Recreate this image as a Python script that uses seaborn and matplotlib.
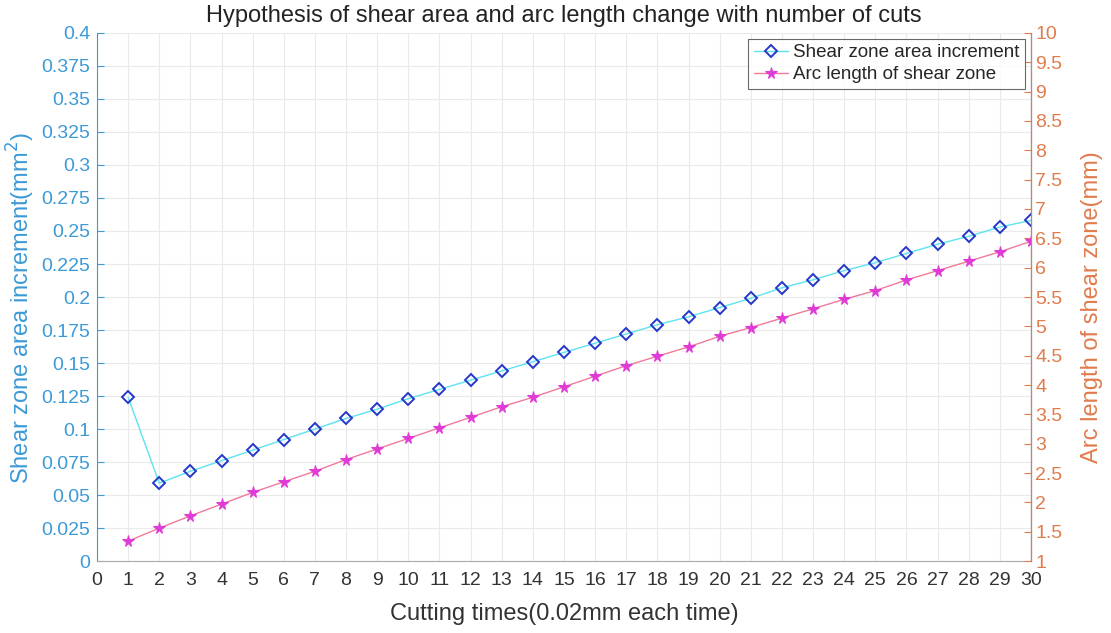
import numpy as np
import pandas as pd
import matplotlib
matplotlib.use("Agg")
import matplotlib.pyplot as plt
import seaborn as sns

# Veri
cuts = list(range(1, 31))
area_increment = [0.124, 0.059, 0.068, 0.076, 0.084, 0.092, 0.100, 0.108, 0.115, 0.123,
                  0.130, 0.137, 0.144, 0.151, 0.158, 0.165, 0.172, 0.179, 0.185, 0.192,
                  0.199, 0.207, 0.213, 0.220, 0.226, 0.233, 0.240, 0.246, 0.253, 0.258]
arc_length = [1.34, 1.56, 1.77, 1.97, 2.17, 2.35, 2.53, 2.73, 2.91, 3.09,
              3.27, 3.45, 3.63, 3.79, 3.97, 4.15, 4.33, 4.49, 4.65, 4.83,
              4.98, 5.14, 5.30, 5.46, 5.61, 5.79, 5.95, 6.11, 6.27, 6.45]
x_ticks = list(range(0, 31))
left_ticks = [i * 0.025 for i in range(17)]
right_ticks = [1 + i * 0.5 for i in range(19)]

df = pd.DataFrame({"cut": cuts, "area": area_increment, "arc": arc_length})

sns.set_style("white")
plt.rcParams["font.family"] = ["Liberation Sans", "DejaVu Sans"]

left_color = "#3C9AD6"
right_color = "#E07B4C"

fig = plt.figure(figsize=(11.11, 6.33), dpi=100)
ax = fig.add_axes([0.0873, 0.1137, 0.8407, 0.8342])
ax2 = ax.twinx()

sns.lineplot(data=df, x="cut", y="area", ax=ax, color="#5DE3F0", linewidth=1.0,
             marker="D", markersize=6.5, markerfacecolor="none", markeredgecolor="#2538C8",
             markeredgewidth=1.4, label="Shear zone area increment", legend=False)
sns.lineplot(data=df, x="cut", y="arc", ax=ax2, color="#F07A9A", linewidth=1.0,
             marker="*", markersize=8.5, markerfacecolor="#E03BD6", markeredgecolor="#E03BD6",
             label="Arc length of shear zone", legend=False)

ax.set_xlim(0, 30)
ax.set_ylim(0, 0.4)
ax2.set_ylim(1, 10)
ax.set_xticks(x_ticks)
ax.set_xticklabels([str(t) for t in x_ticks])
ax.set_yticks(left_ticks)
ax.set_yticklabels([f"{t:g}" for t in np.round(left_ticks, 3)])
ax2.set_yticks(right_ticks)
ax2.set_yticklabels([f"{t:g}" for t in right_ticks])

ax.grid(True, color="#EAEAEA", linewidth=0.8)
ax.set_axisbelow(True)

ax.set_title("Hypothesis of shear area and arc length change with number of cuts",
             fontsize=17, color="#222222", pad=8)
ax.set_xlabel("Cutting times(0.02mm each time)", fontsize=17, color="#333333", labelpad=10)
ax.set_ylabel("Shear zone area increment(mm$^2$)", fontsize=17, color=left_color)
ax2.set_ylabel("Arc length of shear zone(mm)", fontsize=17, color=right_color)
ax.yaxis.set_label_coords(-0.064, 0.48)
ax2.yaxis.set_label_coords(1.053, 0.48)

ax.tick_params(axis="x", direction="in", length=5, colors="#555555", labelsize=14,
               labelcolor="#333333", pad=8)
ax.tick_params(axis="y", direction="in", length=5, colors=left_color, labelsize=14, pad=5)
ax2.tick_params(axis="y", direction="in", length=5, colors=right_color, labelsize=14, pad=3)

for a in (ax, ax2):
    a.spines["top"].set_visible(False)
ax.spines["left"].set_color(left_color)
ax.spines["bottom"].set_color("#AAAAAA")
ax2.spines["right"].set_color(right_color)
ax2.spines["left"].set_visible(False)
ax2.spines["bottom"].set_visible(False)

h1, l1 = ax.get_legend_handles_labels()
h2, l2 = ax2.get_legend_handles_labels()
leg = ax2.legend(h1 + h2, l1 + l2, loc="upper right", fontsize=13.5, frameon=True,
                 fancybox=False, edgecolor="#444444", borderaxespad=0.3,
                 handlelength=1.8, handletextpad=0.3, borderpad=0.3, labelspacing=0.25)
leg.get_frame().set_linewidth(0.8)

plt.savefig("out.png", dpi=100)
plt.close()
